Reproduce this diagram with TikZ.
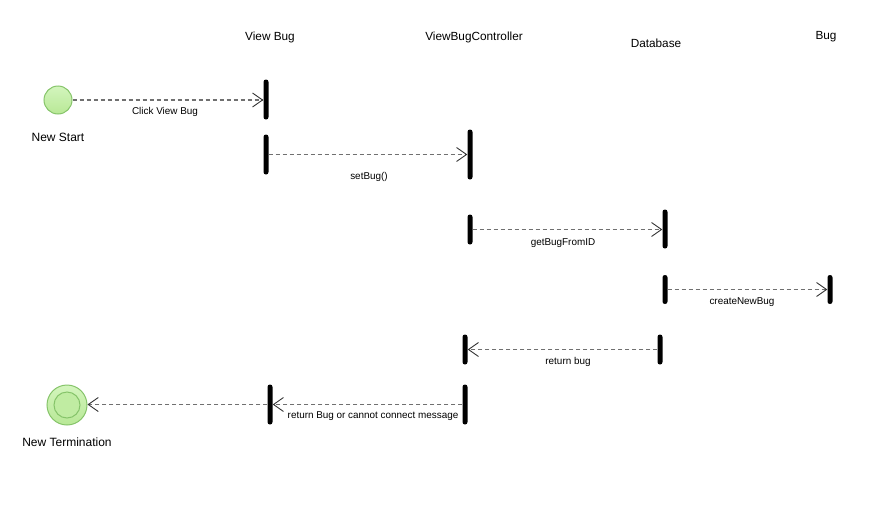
\documentclass[tikz,border=0pt]{standalone}
\usepackage{fontspec}
\setmainfont{Liberation Sans}
\usetikzlibrary{arrows.meta}
\definecolor{stfill}{HTML}{D3F5BD}
\definecolor{stfillb}{HTML}{B8E896}
\definecolor{stline}{HTML}{86C46A}
\definecolor{msgline}{HTML}{707070}
\definecolor{tipline}{HTML}{333333}
\begin{document}
\begin{tikzpicture}[x=1pt,y=-1pt,
  lifehead/.style={font=\fontsize{11.8}{13}\selectfont, inner sep=0pt, anchor=center},
  actbar/.style={rectangle, fill=black, rounded corners=2.4pt, minimum width=5pt, inner sep=0pt, draw=none},
  msg/.style={draw=msgline, line width=1.5pt, dash pattern=on 4pt off 3pt,
    -{Straight Barb[length=10pt,width=14pt,line width=0.9pt,color=tipline]}},
  msglabel/.style={font=\fontsize{9.9}{11}\selectfont, inner sep=0pt, anchor=center},
  stateout/.style={circle, draw=stline, line width=1pt, top color=stfill, bottom color=stfillb, inner sep=0pt},
  statelabel/.style={font=\fontsize{12}{14}\selectfont, inner sep=0pt, anchor=center}
]
\useasboundingbox (0,0) rectangle (869,525);

% lifeline headings
\node[lifehead] (hvb) at (270,37) {View Bug};
\node[lifehead] (hctl) at (474,37) {ViewBugController};
\node[lifehead] (hdb) at (656,43) {Database};
\node[lifehead] (hbug) at (826,37) {Bug};

% initial and final states
\node[stateout, minimum size=28pt] (start) at (58,100) {};
\node[statelabel] (startlbl) at (58,137) {New Start};
\node[stateout, minimum size=40pt] (term) at (67,405) {};
\node[circle, draw=stline, line width=1pt, fill=stfillb!70!stfill, minimum size=26pt, inner sep=0pt] (termin) at (67,405) {};
\node[statelabel] (termlbl) at (67,442) {New Termination};

% activation bars
\node[actbar, minimum height=40pt] (vb1) at (266,99.5) {};
\node[actbar, minimum height=40pt] (vb2) at (266,154.5) {};
\node[actbar, minimum height=50pt] (ctl1) at (470,154.5) {};
\node[actbar, minimum height=30pt] (ctl2) at (470,229.5) {};
\node[actbar, minimum height=39pt] (db1) at (665,229) {};
\node[actbar, minimum height=29pt] (db2) at (665,289.5) {};
\node[actbar, minimum height=29pt] (bug1) at (830,289.5) {};
\node[actbar, minimum height=30pt] (ctl3) at (465,349.5) {};
\node[actbar, minimum height=30pt] (db3) at (660,349.5) {};
\node[actbar, minimum height=40pt] (vb3) at (270,404.5) {};
\node[actbar, minimum height=40pt] (ctl4) at (465,404.5) {};

% messages
\draw[msg] (start.east) -- (start.east -| vb1.west);
\node[msglabel] (m1) at (165,112) {Click View Bug};

\draw[msg] (vb2.east) -- (vb2.east -| ctl1.west);
\node[msglabel] (m2) at (369,177) {setBug()};

\draw[msg] (ctl2.east) -- (ctl2.east -| db1.west);
\node[msglabel] (m3) at (563,243) {getBugFromID};

\draw[msg] (db2.east) -- (db2.east -| bug1.west);
\node[msglabel] (m4) at (742,302) {createNewBug};

\draw[msg] (db3.west) -- (db3.west -| ctl3.east);
\node[msglabel] (m5) at (568,362) {return bug};

\draw[msg] (ctl4.west) -- (ctl4.west -| vb3.east);
\node[msglabel] (m6) at (373,416) {return Bug or cannot connect message};

\draw[msg] (vb3.west) -- (vb3.west -| term.east);
\end{tikzpicture}
\end{document}
